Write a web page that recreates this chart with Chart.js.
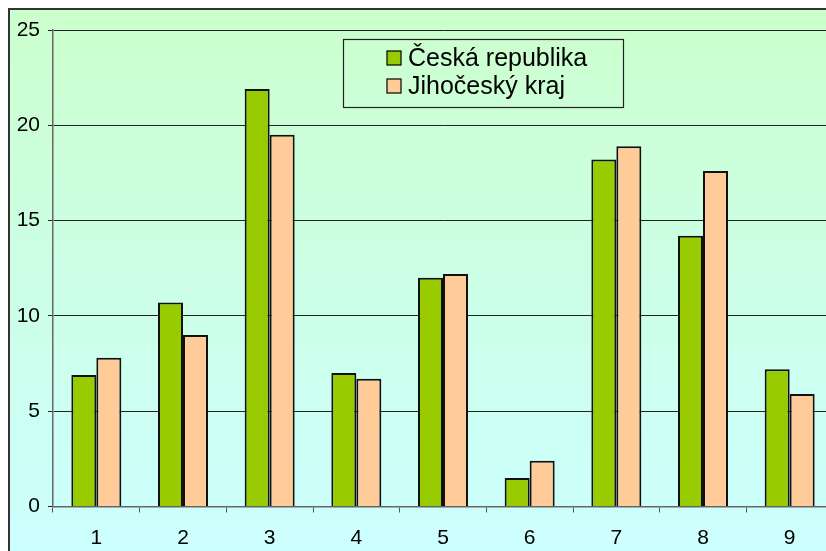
<!DOCTYPE html>
<html lang="cs">
<head>
    <meta charset="UTF-8">
    <title>Česká republika vs Jihočeský kraj</title>
    <script src="https://cdn.jsdelivr.net/npm/chart.js@4.4.0/dist/chart.umd.min.js"></script>
    <style>
        html, body {
            margin: 0;
            padding: 0;
            width: 826px;
            height: 551px;
            overflow: hidden;
            background: #ffffff;
        }
        .wrap {
            width: 845px;
            height: 551px;
        }
    </style>
</head>
<body>

<div class="wrap"><canvas id="chart" width="845" height="551"></canvas></div>

<script>
    const categories = ["1", "2", "3", "4", "5", "6", "7", "8", "9"];
    const seriesNames = ["Česká republika", "Jihočeský kraj"];
    const czValues = [6.9, 10.7, 21.9, 7.0, 12.0, 1.5, 18.2, 14.2, 7.2];
    const jcValues = [7.8, 9.0, 19.5, 6.7, 12.2, 2.4, 18.9, 17.6, 5.9];
    const yTicks = [0, 5, 10, 15, 20, 25];

    const FONT = "'Liberation Sans', Arial, sans-serif";

    // framed gradient background behind the plot
    const backdrop = {
        id: 'backdrop',
        beforeDraw(chart) {
            const ctx = chart.ctx;
            ctx.save();
            ctx.fillStyle = '#ffffff';
            ctx.fillRect(0, 0, chart.width, chart.height);
            const g = ctx.createLinearGradient(0, 9, 0, chart.height);
            g.addColorStop(0, '#ccffcc');
            g.addColorStop(1, '#ccffff');
            ctx.fillStyle = g;
            ctx.fillRect(9, 9, chart.width, chart.height);
            ctx.strokeStyle = '#333333';
            ctx.lineWidth = 2;
            ctx.strokeRect(9, 9, chart.width + 10, chart.height + 10);
            ctx.restore();
        }
    };

    // boxed legend inside the plot
    const boxLegend = {
        id: 'boxLegend',
        afterDraw(chart) {
            const ctx = chart.ctx;
            ctx.save();
            ctx.strokeStyle = '#222222';
            ctx.lineWidth = 1.2;
            ctx.strokeRect(343.5, 39.5, 280, 68);
            ctx.font = '25px ' + FONT;
            ctx.textBaseline = 'middle';
            ctx.textAlign = 'left';
            const rows = [58, 86];
            chart.data.datasets.forEach((ds, i) => {
                ctx.fillStyle = ds.backgroundColor;
                ctx.fillRect(387, rows[i] - 7, 14, 14);
                ctx.strokeStyle = '#000000';
                ctx.lineWidth = 1.2;
                ctx.strokeRect(387, rows[i] - 7, 14, 14);
                ctx.fillStyle = '#000000';
                ctx.fillText(ds.label, 408, rows[i] + 1);
            });
            ctx.restore();
        }
    };

    new Chart(document.getElementById('chart').getContext('2d'), {
        type: 'bar',
        data: {
            labels: categories,
            datasets: [
                {
                    label: seriesNames[0],
                    data: czValues,
                    backgroundColor: '#99cc00',
                    borderColor: '#111111',
                    borderWidth: 2
                },
                {
                    label: seriesNames[1],
                    data: jcValues,
                    backgroundColor: '#ffcc99',
                    borderColor: '#111111',
                    borderWidth: 2
                }
            ]
        },
        options: {
            responsive: false,
            animation: false,
            datasets: {
                bar: { categoryPercentage: 0.577, barPercentage: 1.0 }
            },
            layout: {
                padding: { left: 0, top: 30, right: 12, bottom: 0 }
            },
            plugins: {
                legend: { display: false },
                tooltip: { enabled: false }
            },
            scales: {
                x: {
                    offset: true,
                    afterFit: (s) => { s.height = 44.5; },
                    grid: {
                        offset: true,
                        drawOnChartArea: false,
                        drawTicks: true,
                        tickLength: 6,
                        color: '#555555'
                    },
                    border: { color: '#666666', width: 1.5 },
                    ticks: {
                        color: '#000000',
                        padding: 13,
                        font: { family: FONT, size: 21 }
                    }
                },
                y: {
                    min: 0,
                    max: 25,
                    afterFit: (s) => { s.width = 53; },
                    afterBuildTicks: (s) => { s.ticks = yTicks.map(v => ({ value: v })); },
                    grid: {
                        color: '#222222',
                        lineWidth: 1,
                        drawTicks: true,
                        tickLength: 5
                    },
                    border: { color: '#666666', width: 1.5 },
                    ticks: {
                        color: '#000000',
                        padding: 8,
                        font: { family: FONT, size: 21 }
                    }
                }
            }
        },
        plugins: [backdrop, boxLegend]
    });
</script>

</body>
</html>
